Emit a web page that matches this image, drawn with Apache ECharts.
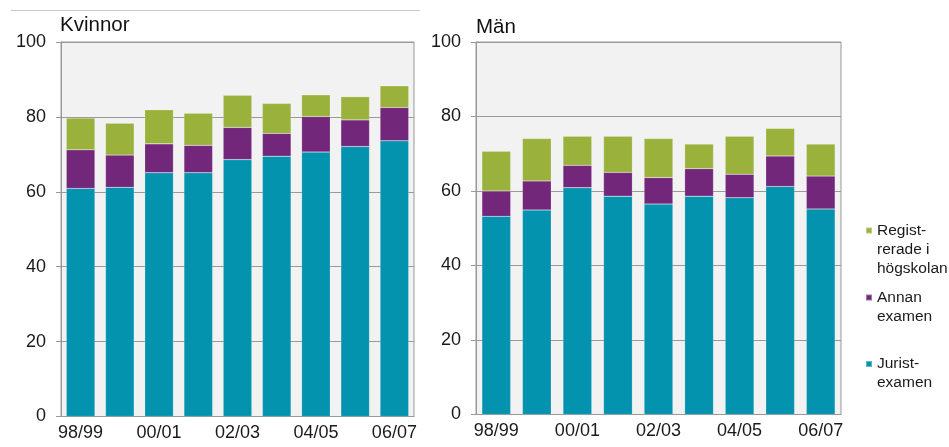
<!DOCTYPE html>
<html>
<head>
<meta charset="utf-8">
<script src="https://cdn.jsdelivr.net/npm/echarts@6/dist/echarts.min.js"></script>
<style>html,body{margin:0;padding:0;background:#fff}#c{width:949px;height:447px}</style>
</head>
<body>
<div id="c"></div>
<script>
var categories = ['98/99','99/00','00/01','01/02','02/03','03/04','04/05','05/06','06/07'];
var seriesNames = ['Jurist-\nexamen', 'Annan\nexamen', 'Regist-\nrerade i\nhögskolan'];
var kvinnorJurist = [60.9, 61.2, 65.1, 65.1, 68.6, 69.5, 70.6, 72.1, 73.6];
var kvinnorAnnan  = [10.3, 8.6, 7.7, 7.3, 8.6, 6.1, 9.5, 7.1, 8.9];
var kvinnorReg    = [8.5, 8.5, 9.1, 8.6, 8.6, 8.0, 5.8, 6.2, 5.8];
var manJurist = [53.2, 54.9, 60.9, 58.6, 56.5, 58.6, 58.2, 61.2, 55.2];
var manAnnan  = [6.8, 7.8, 6.0, 6.4, 7.1, 7.4, 6.3, 8.2, 8.8];
var manReg    = [10.7, 11.4, 7.8, 9.7, 10.5, 6.6, 10.2, 7.4, 8.6];
var yTicks = {min: 0, max: 100, interval: 20};
var colors = ['#0493AE', '#72277A', '#9AB13C'];

var FONT = '"Liberation Sans", Arial, sans-serif';
var chart = echarts.init(document.getElementById('c'));

function xAxis(gi) {
  return {
    type: 'category', gridIndex: gi, data: categories,
    axisTick: {show: false},
    axisLine: {lineStyle: {color: '#999'}},
    axisLabel: {interval: 1, fontSize: 18, color: '#1a1a1a', fontFamily: FONT, margin: 8}
  };
}
function yAxis(gi) {
  return {
    type: 'value', gridIndex: gi, min: yTicks.min, max: yTicks.max, interval: yTicks.interval,
    axisLine: {show: true, lineStyle: {color: '#999'}},
    axisTick: {show: true, length: 5, lineStyle: {color: '#999'}},
    splitLine: {lineStyle: {color: '#999'}},
    axisLabel: {fontSize: 18, color: '#1a1a1a', fontFamily: FONT, margin: 15}
  };
}
function bar(name, data, gi, ci, gap) {
  return {
    type: 'bar', name: name, data: data, stack: 's' + gi,
    xAxisIndex: gi, yAxisIndex: gi, barCategoryGap: gap,
    itemStyle: {color: colors[ci], borderColor: 'rgba(255,255,255,0.35)', borderWidth: 0.5},
    emphasis: {disabled: true}
  };
}
function legend(i, top, n) {
  return {
    data: [seriesNames[i]], left: 865, top: top, orient: 'vertical', padding: 0,
    itemWidth: 6, itemHeight: 6, icon: 'rect', selectedMode: false,
    formatter: function (name) { return new Array(n).join('\n') + name; },
    textStyle: {fontSize: 15.5, lineHeight: 19, color: '#1a1a1a', fontFamily: FONT}
  };
}

chart.setOption({
  animation: false,
  title: [
    {text: 'Kvinnor', left: 60, top: 15, padding: 0, textStyle: {fontSize: 20.5, fontWeight: 'normal', color: '#111', fontFamily: FONT}},
    {text: 'Män', left: 476, top: 17, padding: 0, textStyle: {fontSize: 20.5, fontWeight: 'normal', color: '#111', fontFamily: FONT}}
  ],
  grid: [
    {left: 61, top: 42, width: 353, height: 374.5, show: true, backgroundColor: '#F2F2F2', borderColor: '#999', borderWidth: 1},
    {left: 476, top: 42, width: 365, height: 372.5, show: true, backgroundColor: '#F2F2F2', borderColor: '#999', borderWidth: 1}
  ],
  xAxis: [xAxis(0), xAxis(1)],
  yAxis: [yAxis(0), yAxis(1)],
  legend: [legend(2, 183, 3), legend(1, 269, 2), legend(0, 335.5, 2)],
  graphic: [
    {type: 'line', shape: {x1: 11, y1: 10.5, x2: 420, y2: 10.5}, style: {stroke: '#c8c8c8', lineWidth: 1}}
  ],
  series: [
    bar(seriesNames[0], kvinnorJurist, 0, 0, '27%'),
    bar(seriesNames[1], kvinnorAnnan, 0, 1, '27%'),
    bar(seriesNames[2], kvinnorReg, 0, 2, '27%'),
    bar(seriesNames[0], manJurist, 1, 0, '29%'),
    bar(seriesNames[1], manAnnan, 1, 1, '29%'),
    bar(seriesNames[2], manReg, 1, 2, '29%')
  ]
});
</script>
</body>
</html>
